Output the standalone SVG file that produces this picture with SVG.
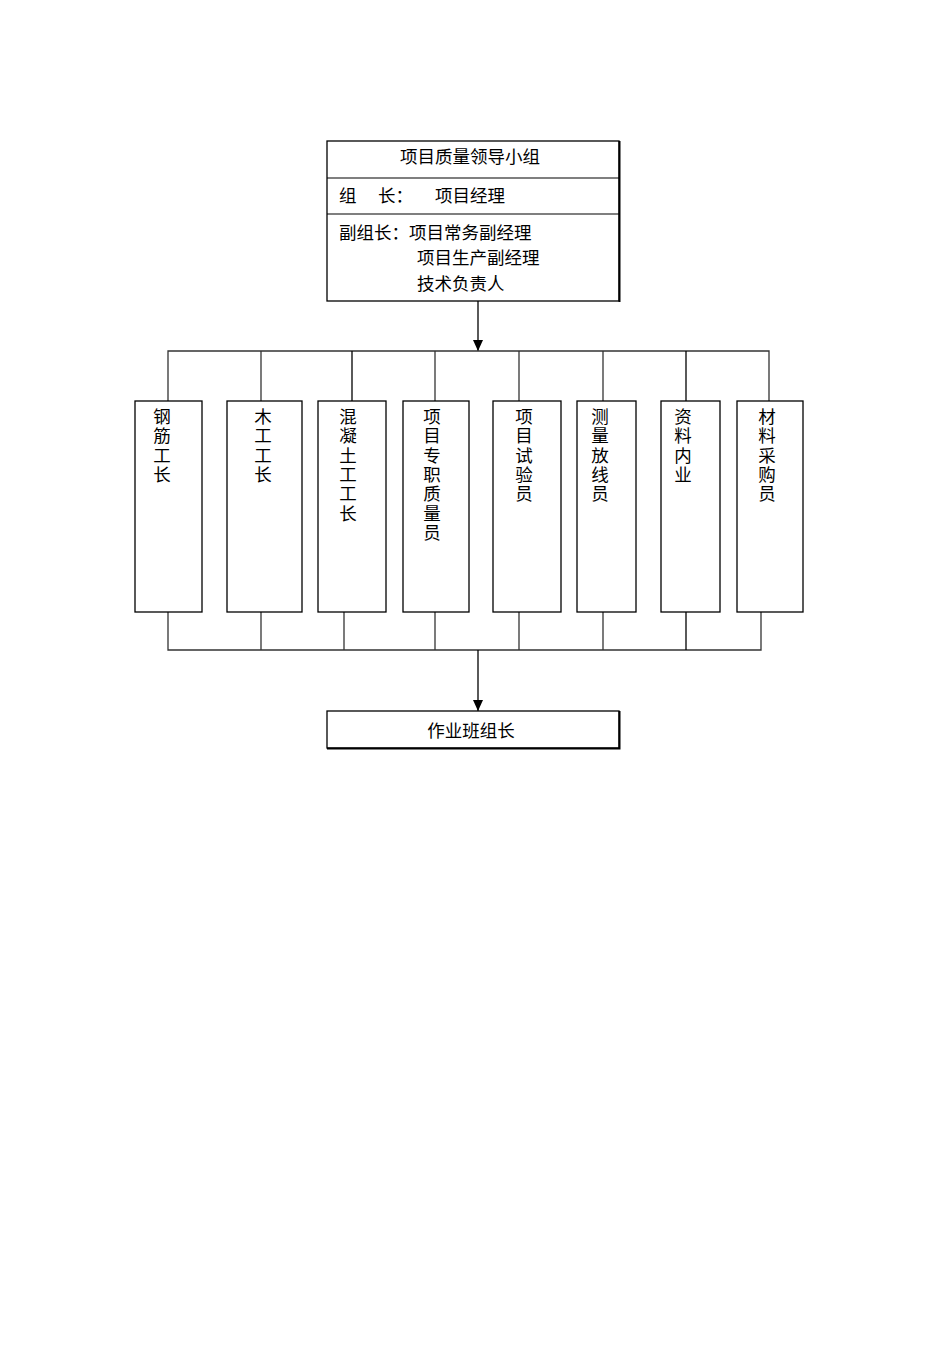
<svg xmlns="http://www.w3.org/2000/svg" width="950" height="1345" viewBox="0 0 950 1345">
<style>
.box{fill:#fff;stroke:#000;stroke-width:1.3}
.ln{fill:none;stroke:#333;stroke-width:1.3}
text{font-family:"Liberation Serif","Noto Sans CJK SC",serif;font-size:17.5px;fill:#000}
.c{text-anchor:middle}
</style>
<defs>
<marker id="arr" markerWidth="11" markerHeight="10" refX="11" refY="5" orient="auto" markerUnits="userSpaceOnUse" viewBox="0 0 11 10">
<path d="M0,0 L11,5 L0,10 Z" fill="#000"/>
</marker>
</defs>
<rect width="950" height="1345" fill="#fff"/>
<g id="connectors">
<line class="ln" x1="478" y1="301" x2="478" y2="351" marker-end="url(#arr)" style="stroke:#000"/>
<polyline class="ln" points="168,401 168,351 769,351 769,401"/>
<line class="ln" x1="261" y1="351" x2="261" y2="401"/>
<line class="ln" x1="352" y1="351" x2="352" y2="401" style="stroke:#000"/>
<line class="ln" x1="435" y1="351" x2="435" y2="401"/>
<line class="ln" x1="519" y1="351" x2="519" y2="401"/>
<line class="ln" x1="603" y1="351" x2="603" y2="401"/>
<line class="ln" x1="686" y1="351" x2="686" y2="401" style="stroke:#000"/>
<polyline class="ln" points="168,612 168,650 761,650 761,612"/>
<line class="ln" x1="261" y1="612" x2="261" y2="650"/>
<line class="ln" x1="344" y1="612" x2="344" y2="650"/>
<line class="ln" x1="435" y1="612" x2="435" y2="650"/>
<line class="ln" x1="519" y1="612" x2="519" y2="650"/>
<line class="ln" x1="603" y1="612" x2="603" y2="650"/>
<line class="ln" x1="686" y1="612" x2="686" y2="650" style="stroke:#000"/>
<line class="ln" x1="478" y1="650" x2="478" y2="711" marker-end="url(#arr)" style="stroke:#000"/>
</g>
<g id="leader">
<rect class="box" x="327" y="141" width="292" height="160"/>
<line x1="619.5" y1="141" x2="619.5" y2="302" stroke="#000" stroke-width="2"/>
<line x1="327" y1="178" x2="619" y2="178" stroke="#000" stroke-width="1.2"/>
<line x1="327" y1="214" x2="619" y2="214" stroke="#000" stroke-width="1.2"/>
<text class="c" x="470" y="163">项目质量领导小组</text>
<text x="339" y="202">组</text>
<text x="378" y="202">长：</text>
<text x="435" y="202">项目经理</text>
<text x="339" y="239">副组长：项目常务副经理</text>
<text x="417" y="264">项目生产副经理</text>
<text x="417" y="290">技术负责人</text>
</g>
<g id="n1"><rect class="box" x="135" y="401" width="67" height="211"/>
<text class="c" x="162" y="423">钢</text><text class="c" x="162" y="442.3">筋</text><text class="c" x="162" y="461.6">工</text><text class="c" x="162" y="480.9">长</text></g>
<g id="n2"><rect class="box" x="227" y="401" width="75" height="211"/>
<text class="c" x="263" y="423">木</text><text class="c" x="263" y="442.3">工</text><text class="c" x="263" y="461.6">工</text><text class="c" x="263" y="480.9">长</text></g>
<g id="n3"><rect class="box" x="318" y="401" width="68" height="211"/>
<text class="c" x="348" y="423">混</text><text class="c" x="348" y="442.3">凝</text><text class="c" x="348" y="461.6">土</text><text class="c" x="348" y="480.9">工</text><text class="c" x="348" y="500.2">工</text><text class="c" x="348" y="519.5">长</text></g>
<g id="n4"><rect class="box" x="403" y="401" width="66" height="211"/>
<text class="c" x="432" y="423">项</text><text class="c" x="432" y="442.3">目</text><text class="c" x="432" y="461.6">专</text><text class="c" x="432" y="480.9">职</text><text class="c" x="432" y="500.2">质</text><text class="c" x="432" y="519.5">量</text><text class="c" x="432" y="538.8">员</text></g>
<g id="n5"><rect class="box" x="493" y="401" width="68" height="211"/>
<text class="c" x="524" y="423">项</text><text class="c" x="524" y="442.3">目</text><text class="c" x="524" y="461.6">试</text><text class="c" x="524" y="480.9">验</text><text class="c" x="524" y="500.2">员</text></g>
<g id="n6"><rect class="box" x="577" y="401" width="59" height="211"/>
<text class="c" x="600" y="423">测</text><text class="c" x="600" y="442.3">量</text><text class="c" x="600" y="461.6">放</text><text class="c" x="600" y="480.9">线</text><text class="c" x="600" y="500.2">员</text></g>
<g id="n7"><rect class="box" x="661" y="401" width="59" height="211"/>
<text class="c" x="683" y="423">资</text><text class="c" x="683" y="442.3">料</text><text class="c" x="683" y="461.6">内</text><text class="c" x="683" y="480.9">业</text></g>
<g id="n8"><rect class="box" x="737" y="401" width="66" height="211"/>
<text class="c" x="767" y="423">材</text><text class="c" x="767" y="442.3">料</text><text class="c" x="767" y="461.6">采</text><text class="c" x="767" y="480.9">购</text><text class="c" x="767" y="500.2">员</text></g>
<g id="team">
<rect class="box" x="327" y="711" width="292" height="37"/>
<polyline points="619.5,711 619.5,748.5 327,748.5" fill="none" stroke="#000" stroke-width="2"/>
<text class="c" x="471" y="737">作业班组长</text>
</g>
</svg>
